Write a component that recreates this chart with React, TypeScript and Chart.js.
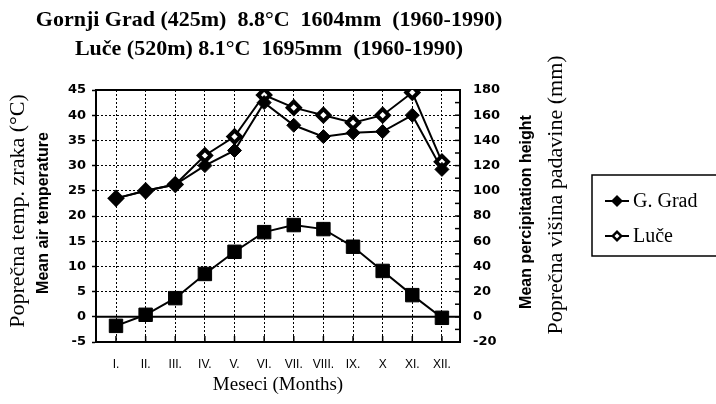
import { useEffect, useRef } from 'react';
import { Chart, registerables } from 'chart.js';

Chart.register(...registerables);

const MONTHS = ['I.', 'II.', 'III.', 'IV.', 'V.', 'VI.', 'VII.', 'VIII.', 'IX.', 'X', 'XI.', 'XII.'];
const TEMPERATURE = [-1.8, 0.4, 3.7, 8.5, 12.9, 16.8, 18.2, 17.4, 13.9, 9.1, 4.3, -0.2];
const PRECIP_GORNJI_GRAD = [94, 100, 105, 120, 132, 170, 152, 143, 146, 147, 160, 117];
const PRECIP_LUCE = [94, 100, 105, 128, 143, 176, 166, 160, 154, 160, 178, 123];
const TEMP_MIN = -5;
const TEMP_MAX = 45;
const TEMP_STEP = 5;
const PRECIP_MIN = -20;
const PRECIP_MAX = 180;
const PRECIP_STEP = 20;
const PRECIP_MINOR_STEP = 10;
const TITLE_LINES = ['Gornji Grad (425m)  8.8°C  1604mm  (1960-1990)', 'Luče (520m) 8.1°C  1695mm  (1960-1990)'];
const LEFT_TITLE = 'Poprečna temp. zraka (°C)';
const LEFT_SUBTITLE = 'Mean air temperature';
const RIGHT_TITLE = 'Poprečna višina padavine (mm)';
const RIGHT_SUBTITLE = 'Mean percipitation height';
const X_TITLE = 'Meseci (Months)';
const LEGEND_LABELS = ['G. Grad', 'Luče'];

const decor = {
  id: 'decor',
  beforeDatasetsDraw(chart: any) {
    const { ctx, chartArea: a, scales } = chart;
    ctx.save();
    ctx.strokeStyle = '#000';
    ctx.setLineDash([]);
    ctx.lineWidth = 2;
    ctx.beginPath();
    ctx.moveTo(a.left - 1, a.top);
    ctx.lineTo(a.right + 1, a.top);
    ctx.stroke();
    const y0 = scales.yT.getPixelForValue(0);
    ctx.beginPath();
    ctx.moveTo(a.left, y0);
    ctx.lineTo(a.right, y0);
    ctx.stroke();
    ctx.lineWidth = 1.5;
    for (let v = PRECIP_MIN; v <= PRECIP_MAX; v += PRECIP_MINOR_STEP) {
      const y = scales.yP.getPixelForValue(v);
      ctx.beginPath();
      ctx.moveTo(a.right - 5, y);
      ctx.lineTo(a.right, y);
      ctx.stroke();
    }
    MONTHS.forEach((_, i) => {
      const x = scales.x.getPixelForValue(i);
      ctx.beginPath();
      ctx.moveTo(x, a.bottom);
      ctx.lineTo(x, a.bottom - 6);
      ctx.stroke();
    });
    ctx.restore();
  },
  afterDraw(chart: any) {
    const { ctx, chartArea: a } = chart;
    ctx.save();
    ctx.fillStyle = '#000';
    ctx.textAlign = 'center';
    ctx.textBaseline = 'middle';
    ctx.font = 'bold 22px "Liberation Serif"';
    ctx.fillText(TITLE_LINES[0], 269, 20);
    ctx.fillText(TITLE_LINES[1], 269, 49);

    ctx.font = '19px "Liberation Serif"';
    ctx.fillText(X_TITLE, (a.left + a.right) / 2, 385);

    const vText = (t: string, x: number, y: number, font: string) => {
      ctx.save();
      ctx.translate(x, y);
      ctx.rotate(-Math.PI / 2);
      ctx.font = font;
      ctx.fillText(t, 0, 0);
      ctx.restore();
    };
    vText(LEFT_TITLE, 18, 211, '22px "Liberation Serif"');
    vText(LEFT_SUBTITLE, 44, 213, 'bold 16px "Liberation Sans"');
    vText(RIGHT_SUBTITLE, 527, 212, 'bold 16px "Liberation Sans"');
    vText(RIGHT_TITLE, 556, 195, '22px "Liberation Serif"');

    ctx.lineWidth = 1.5;
    ctx.strokeStyle = '#000';
    ctx.strokeRect(592, 175, 140, 81);
    ctx.textAlign = 'left';
    ctx.font = '20px "Liberation Serif"';
    const rows = [201, 236];
    rows.forEach((y, i) => {
      ctx.lineWidth = 2;
      ctx.beginPath();
      ctx.moveTo(605, y);
      ctx.lineTo(629, y);
      ctx.stroke();
      ctx.beginPath();
      ctx.moveTo(617, y - 6);
      ctx.lineTo(623, y);
      ctx.lineTo(617, y + 6);
      ctx.lineTo(611, y);
      ctx.closePath();
      ctx.fillStyle = '#000';
      ctx.fill();
      if (i === 1) {
        ctx.fillStyle = '#fff';
        ctx.beginPath();
        ctx.moveTo(617, y - 2.5);
        ctx.lineTo(619.5, y);
        ctx.lineTo(617, y + 2.5);
        ctx.lineTo(614.5, y);
        ctx.closePath();
        ctx.fill();
      }
      ctx.fillStyle = '#000';
      ctx.fillText(LEGEND_LABELS[i], 633, y + 1);
    });
    ctx.restore();
  },
};

export default function App() {
  const ref = useRef<HTMLCanvasElement>(null);
  useEffect(() => {
    document.body.style.margin = '0';
    const tickFont = { family: '"DejaVu Sans"', size: 13, weight: 'bold' as const };
    const chart = new Chart(ref.current!, {
      type: 'line',
      data: {
        datasets: [
          {
            label: 'Temperature',
            data: TEMPERATURE.map((y, i) => ({ x: i, y })),
            yAxisID: 'yT',
            borderColor: '#000',
            backgroundColor: '#000',
            borderWidth: 2,
            pointStyle: 'rect',
            pointRadius: 9.5,
            pointBorderWidth: 1,
          },
          {
            label: LEGEND_LABELS[0],
            data: PRECIP_GORNJI_GRAD.map((y, i) => ({ x: i, y })),
            yAxisID: 'yP',
            borderColor: '#000',
            backgroundColor: '#000',
            borderWidth: 2,
            pointStyle: 'rectRot',
            pointRadius: 7,
            pointBorderWidth: 1,
          },
          {
            label: LEGEND_LABELS[1],
            data: PRECIP_LUCE.map((y, i) => ({ x: i, y })),
            yAxisID: 'yP',
            borderColor: '#000',
            backgroundColor: '#fff',
            borderWidth: 2,
            pointStyle: 'rectRot',
            pointRadius: 6,
            pointBorderWidth: 4,
          },
        ],
      },
      options: {
        responsive: false,
        animation: false,
        layout: { padding: { left: 0, top: 90, right: 196, bottom: 22 } },
        plugins: { legend: { display: false }, title: { display: false }, tooltip: { enabled: false } },
        scales: {
          x: {
            type: 'linear',
            min: -0.675,
            max: 11.61,
            afterBuildTicks: (s: any) => {
              s.ticks = MONTHS.map((_, i) => ({ value: i }));
            },
            afterFit: (s: any) => {
              s.height = 40;
            },
            ticks: {
              autoSkip: false,
              maxRotation: 0,
              padding: 15,
              color: '#000',
              font: { family: '"Liberation Sans"', size: 12 },
              callback: (_v: any, i: number) => MONTHS[i],
            },
            grid: { color: '#000', lineWidth: 1, drawTicks: false },
            border: { display: true, width: 2, color: '#000', dash: [2, 2] },
          },
          yT: {
            type: 'linear',
            position: 'left',
            min: TEMP_MIN,
            max: TEMP_MAX,
            afterFit: (s: any) => {
              s.width = 96;
            },
            ticks: { stepSize: TEMP_STEP, padding: 6, color: '#000', font: tickFont },
            grid: { color: '#000', lineWidth: 1, tickLength: 4, tickColor: '#000', tickWidth: 1.5 },
            border: { display: true, width: 2, color: '#000', dash: [2, 2] },
          },
          yP: {
            type: 'linear',
            position: 'right',
            min: PRECIP_MIN,
            max: PRECIP_MAX,
            afterFit: (s: any) => {
              s.width = 60;
            },
            ticks: { stepSize: PRECIP_STEP, padding: 13, color: '#000', font: tickFont },
            grid: { drawOnChartArea: false, drawTicks: false },
            border: { display: true, width: 2, color: '#000' },
          },
        },
      },
      plugins: [decor],
    });
    return () => chart.destroy();
  }, []);
  return <canvas ref={ref} width={716} height={404} style={{ display: 'block' }} />;
}
